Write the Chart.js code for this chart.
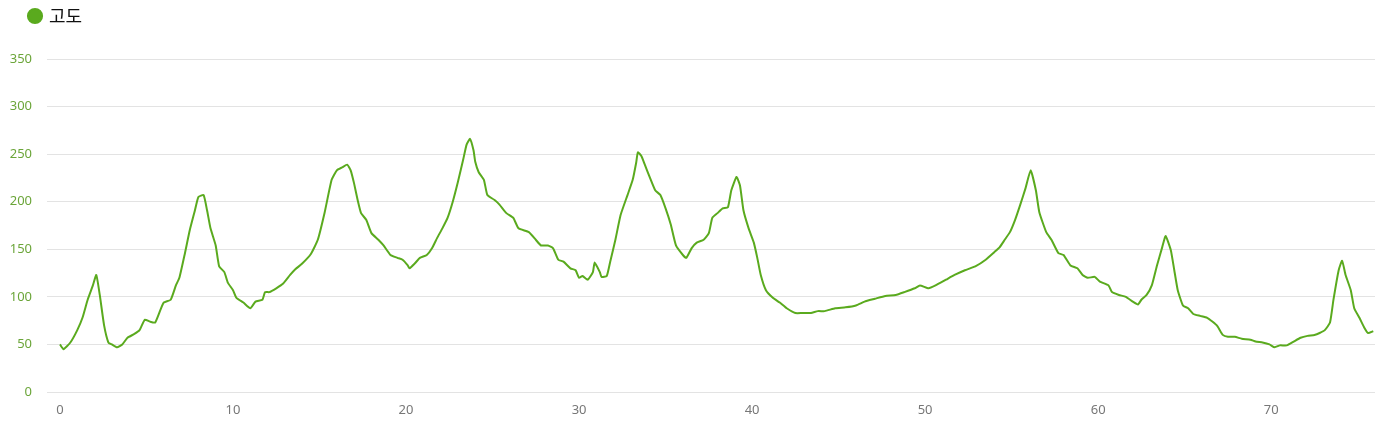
<!DOCTYPE html>
<html>
<head>
<meta charset="utf-8">
<script src="https://cdn.jsdelivr.net/npm/chart.js@4"></script>
<style>
  html, body { margin: 0; padding: 0; background: #fff; }
  #wrap { width: 1395px; height: 424px; }
</style>
</head>
<body>
<div id="wrap"><canvas id="elevChart" width="1395" height="424"></canvas></div>
<script>
  // distance (km) and elevation (m)
  const distances = [0, 0.2, 0.6, 1.0, 1.3, 1.6, 1.9, 2.1, 2.3, 2.55, 2.8, 3.0, 3.3, 3.6, 3.9, 4.3, 4.6, 4.9, 5.2, 5.5,
    5.8, 6.0, 6.4, 6.7, 6.9, 7.2, 7.5, 7.8, 8.0, 8.3, 8.5, 8.7, 9.0, 9.2, 9.5, 9.7, 10.0, 10.2, 10.6, 11.0,
    11.3, 11.7, 11.85, 12.1, 12.5, 12.9, 13.3, 13.6, 14.0, 14.5, 14.9, 15.3, 15.7, 16.0, 16.3, 16.6, 16.8, 17.0, 17.2, 17.4,
    17.7, 18.0, 18.4, 18.7, 19.1, 19.5, 19.8, 20.1, 20.2, 20.5, 20.8, 21.2, 21.5, 21.8, 22.1, 22.4, 22.7, 23.0, 23.3, 23.5,
    23.7, 23.9, 24.0, 24.2, 24.5, 24.7, 25.1, 25.4, 25.8, 26.2, 26.5, 27.1, 27.5, 27.8, 28.2, 28.5, 28.8, 29.1, 29.5, 29.8,
    30.0, 30.2, 30.5, 30.8, 30.9, 31.2, 31.3, 31.6, 31.8, 32.1, 32.4, 32.8, 33.1, 33.3, 33.4, 33.6, 33.8, 34.1, 34.4, 34.7,
    35.0, 35.3, 35.6, 36.0, 36.2, 36.5, 36.8, 37.2, 37.5, 37.7, 38.0, 38.3, 38.6, 38.8, 39.1, 39.3, 39.5, 39.8, 40.1, 40.3,
    40.5, 40.8, 41.2, 41.6, 42.0, 42.5, 42.9, 43.4, 43.8, 44.2, 44.8, 45.4, 46.0, 46.5, 47.1, 47.7, 48.3, 48.8, 49.4, 49.7,
    50.2, 50.6, 51.2, 51.7, 52.3, 52.9, 53.5, 54.0, 54.3, 54.6, 54.9, 55.2, 55.5, 55.8, 56.1, 56.4, 56.6, 57.0, 57.3, 57.7,
    58.0, 58.4, 58.8, 59.1, 59.4, 59.8, 60.1, 60.6, 60.8, 61.2, 61.6, 62.0, 62.3, 62.5, 62.8, 63.1, 63.4, 63.7, 63.9, 64.2,
    64.4, 64.6, 64.9, 65.2, 65.5, 65.9, 66.3, 66.6, 66.9, 67.2, 67.5, 67.9, 68.3, 68.8, 69.1, 69.5, 69.9, 70.2, 70.5, 70.9,
    71.3, 71.7, 72.1, 72.5, 72.8, 73.1, 73.4, 73.6, 73.9, 74.1, 74.3, 74.6, 74.8, 75.1, 75.4, 75.6, 75.9];
  const elevations = [50, 45, 52, 65, 78, 97, 112, 123, 102, 70, 52, 50, 47, 50, 57, 61, 65, 76, 74, 73,
    86, 94, 97, 112, 120, 144, 170, 191, 205, 207, 191, 172, 154, 132, 126, 115, 107, 99, 94, 88,
    95, 97, 105, 105, 109, 114, 123, 129, 135, 145, 160, 189, 223, 233, 236, 239, 233, 219, 202, 188,
    181, 167, 160, 154, 144, 141, 139, 133, 130, 135, 141, 144, 151, 162, 172, 183, 200, 221, 244, 260,
    266, 254, 242, 231, 223, 207, 202, 197, 188, 183, 172, 168, 160, 154, 154, 151, 139, 137, 130, 128,
    120, 122, 118, 126, 136, 126, 121, 122, 137, 160, 186, 207, 223, 241, 252, 248, 239, 225, 212, 207,
    193, 176, 154, 144, 141, 151, 157, 160, 167, 183, 188, 193, 194, 212, 226, 217, 191, 172, 157, 141,
    123, 107, 99, 94, 88, 83, 83, 83, 85, 85, 88, 89, 91, 95, 98, 101, 102, 105, 109, 112,
    109, 112, 118, 123, 128, 132, 139, 147, 152, 160, 168, 181, 197, 214, 233, 212, 189, 168, 160, 146,
    144, 133, 130, 123, 120, 121, 116, 112, 105, 102, 100, 95, 92, 97, 102, 112, 133, 152, 164, 149,
    128, 107, 91, 88, 82, 80, 78, 74, 69, 60, 58, 58, 56, 55, 53, 52, 50, 47, 49, 49,
    53, 57, 59, 60, 62, 65, 73, 97, 128, 138, 123, 107, 88, 78, 67, 62, 64];
  const yTicks = [0, 50, 100, 150, 200, 250, 300, 350];
  const xTicks = [0, 10, 20, 30, 40, 50, 60, 70];

  const points = distances.map((d, i) => ({ x: d, y: elevations[i] }));

  // fixed legend band height and a small indent for the legend item
  const legendPlace = {
    id: 'legendPlace',
    beforeInit(chart) {
      const fit = chart.legend.fit;
      chart.legend.fit = function () {
        fit.bind(this)();
        this.height = 59;
      };
    },
    afterLayout(chart) {
      chart.legend.left = 23;
    }
  };

  const ctx = document.getElementById('elevChart').getContext('2d');
  new Chart(ctx, {
    type: 'line',
    data: {
      datasets: [{
        label: '고도',
        data: points,
        borderColor: '#5aaa1e',
        backgroundColor: '#5aaa1e',
        borderWidth: 2,
        pointRadius: 0,
        tension: 0.15,
        fill: false
      }]
    },
    options: {
      responsive: false,
      devicePixelRatio: 1,
      animation: false,
      layout: { padding: { left: 0, right: 20, top: 0, bottom: 0 } },
      plugins: {
        legend: {
          display: true,
          align: 'start',
          labels: {
            usePointStyle: true,
            pointStyle: 'circle',
            boxWidth: 10,
            boxHeight: 10,
            padding: 7,
            color: '#111',
            font: { family: "'Noto Sans CJK KR', 'Noto Sans'", size: 18 }
          }
        },
        tooltip: { enabled: false }
      },
      scales: {
        x: {
          type: 'linear',
          min: -0.75,
          max: 76,
          afterBuildTicks: s => { s.ticks = xTicks.map(v => ({ value: v })); },
          afterFit: s => { s.height = 32; },
          grid: { display: false },
          border: { display: false },
          ticks: { color: '#777', padding: 2, font: { family: "'Noto Sans'", size: 13 } }
        },
        y: {
          min: 0,
          max: 350,
          afterBuildTicks: s => { s.ticks = yTicks.map(v => ({ value: v })); },
          afterFit: s => { s.width = 47; },
          grid: { color: '#e3e3e3', drawTicks: false },
          border: { display: false },
          ticks: { color: '#6ba539', padding: 15, font: { family: "'Noto Sans'", size: 13 } }
        }
      }
    },
    plugins: [legendPlace]
  });
</script>
</body>
</html>
